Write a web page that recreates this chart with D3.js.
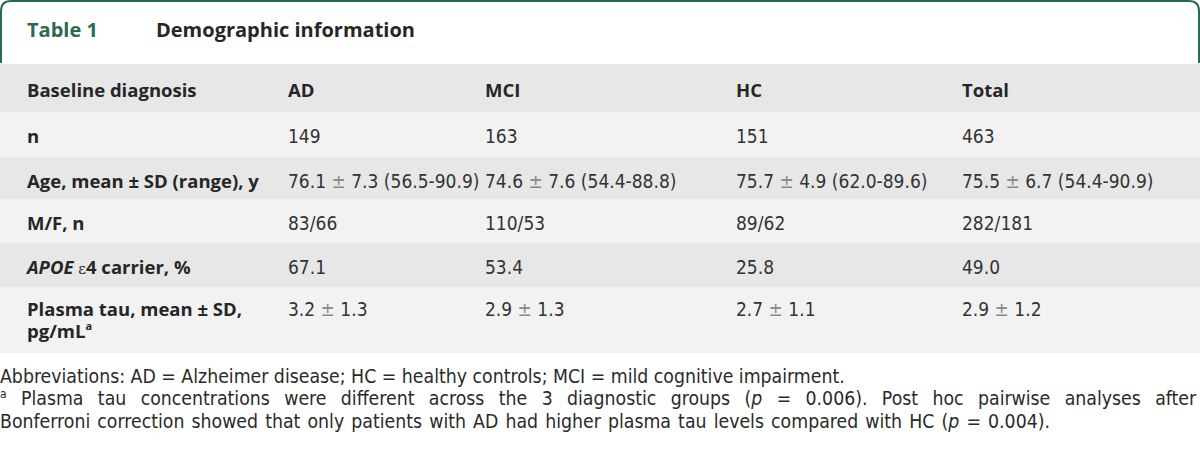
<!DOCTYPE html>
<html>
<head>
<meta charset="utf-8">
<script src="https://cdn.jsdelivr.net/npm/d3@7"></script>
<style>
  body { margin: 0; background: #fff; }
  svg { display: block; }
  .lbl { font-family: "Open Sans", Lato, sans-serif; font-weight: 700; font-size: 18.5px; fill: #262626; }
  .val { font-family: "Liberation Sans Narrow", "DejaVu Sans Condensed", sans-serif; font-size: 19px; fill: #333; }
  .note { font-family: "Liberation Sans Narrow", "DejaVu Sans Condensed", sans-serif; font-size: 19.3px; fill: #2a2a2a; }
</style>
</head>
<body>
<svg id="table"></svg>
<script>
const w = 1200;
const h = 455;

const title = "Table 1";
const subtitle = "Demographic information";
const columns = ["AD", "MCI", "HC", "Total"];
const rowLabels = ["n", "Age, mean ± SD (range), y", "M/F, n", "APOE ε4 carrier, %", "Plasma tau, mean ± SD, pg/mLa"];
const adValues = ["149", "76.1 ± 7.3 (56.5-90.9)", "83/66", "67.1", "3.2 ± 1.3"];
const mciValues = ["163", "74.6 ± 7.6 (54.4-88.8)", "110/53", "53.4", "2.9 ± 1.3"];
const hcValues = ["151", "75.7 ± 4.9 (62.0-89.6)", "89/62", "25.8", "2.7 ± 1.1"];
const totalValues = ["463", "75.5 ± 6.7 (54.4-90.9)", "282/181", "49.0", "2.9 ± 1.2"];
const footnotes = [
  "Abbreviations: AD = Alzheimer disease; HC = healthy controls; MCI = mild cognitive impairment.",
  "aPlasma tau concentrations were different across the 3 diagnostic groups (p = 0.006). Post hoc pairwise analyses after",
  "Bonferroni correction showed that only patients with AD had higher plasma tau levels compared with HC (p = 0.004)."
];

const green = "#2d6a4b";
const svg = d3.select("#table").attr("width", w).attr("height", h);

// header tab
svg.append("path")
  .attr("d", "M1,63 V11 Q1,1 11,1 H1189 Q1199,1 1199,11 V63")
  .attr("fill", "none")
  .attr("stroke", green)
  .attr("stroke-width", 2);

svg.append("text")
  .attr("x", 27).attr("y", 37)
  .style("font-family", "'Open Sans', sans-serif").style("font-weight", 700).style("font-size", "20px")
  .attr("fill", green)
  .text(title);
svg.append("text")
  .attr("x", 156).attr("y", 37)
  .style("font-family", "'Open Sans', sans-serif").style("font-weight", 700).style("font-size", "20px")
  .attr("fill", "#262626")
  .text(subtitle);

// rows: header + data rows; last row wraps to two lines
const rowKeys = ["header"].concat(rowLabels);
const rowHeights = [48, 45, 42, 44, 44, 66];
const rowTop = [];
rowHeights.reduce((acc, v, i) => { rowTop[i] = acc; return acc + v; }, 64);

const yScale = d3.scaleOrdinal().domain(rowKeys).range(rowTop);
const hScale = d3.scaleOrdinal().domain(rowKeys).range(rowHeights);
const xScale = d3.scaleOrdinal().domain(["label"].concat(columns)).range([27, 288, 485, 736, 962]);
const fillScale = d3.scaleOrdinal().domain([0, 1]).range(["#e6e7e6", "#f2f2f2"]);

svg.selectAll("rect.row")
  .data(rowKeys)
  .enter()
  .append("rect")
  .attr("class", "row")
  .attr("x", 0)
  .attr("width", w)
  .attr("y", (d) => yScale(d))
  .attr("height", (d) => hScale(d))
  .attr("fill", (d, i) => fillScale(i % 2));

// column header row
const headY = yScale("header") + 33;
svg.append("text").attr("class", "lbl").attr("x", xScale("label")).attr("y", headY).text("Baseline diagnosis");
svg.selectAll("text.colhead")
  .data(columns)
  .enter()
  .append("text")
  .attr("class", "lbl colhead")
  .attr("x", (d) => xScale(d))
  .attr("y", headY)
  .text((d) => d);

// row labels
const firstLineY = (d) => yScale(d) + (d.startsWith("Plasma") ? 29 : 31);
rowLabels.forEach((label) => {
  const t = svg.append("text").attr("class", "lbl").attr("x", xScale("label")).attr("y", firstLineY(label));
  if (label.startsWith("APOE")) {
    t.append("tspan").style("font-style", "italic").text("APOE");
    t.append("tspan").style("font-family", "'DejaVu Serif', serif").style("font-weight", 400).style("font-size", "15px").text(" ε");
    t.append("tspan").text("4 carrier, %");
  } else if (label.startsWith("Plasma")) {
    t.append("tspan").text("Plasma tau, mean ± SD,");
    const t2 = svg.append("text").attr("class", "lbl").attr("x", xScale("label")).attr("y", firstLineY(label) + 22);
    t2.append("tspan").text("pg/mL");
    t2.append("tspan").attr("dy", -8).style("font-size", "11px").text("a");
  } else {
    t.text(label);
  }
});

// values
const seriesByColumn = { AD: adValues, MCI: mciValues, HC: hcValues, Total: totalValues };
columns.forEach((col) => {
  svg.selectAll("text.v-" + col)
    .data(seriesByColumn[col])
    .enter()
    .append("text")
    .attr("class", "val v-" + col)
    .attr("x", xScale(col))
    .attr("y", (d, i) => firstLineY(rowLabels[i]))
    .each(function (d) {
      const parts = d.split("±");
      const el = d3.select(this);
      if (parts.length === 1) { el.text(d); return; }
      el.append("tspan").text(parts[0]);
      el.append("tspan").attr("fill", "#888").text("±");
      el.append("tspan").text(parts[1]);
    });
});

// footnotes (paragraph is justified, so the middle line fills the width)
const noteY = [383, 405, 428];
const fitWidth = (t, target) => {
  const len0 = t.node().getBBox().width;
  t.attr("word-spacing", 2);
  const len1 = t.node().getBBox().width;
  const perUnit = (len1 - len0) / 2;
  if (perUnit > 0) t.attr("word-spacing", (target - len0) / perUnit);
};
footnotes.forEach((line, i) => {
  const t = svg.append("text").attr("class", "note").attr("x", 0).attr("y", noteY[i]);
  let rest = line;
  let shiftBack = 0;
  if (i === 1) {
    t.append("tspan").attr("dy", -7).style("font-size", "12px").text("a");
    rest = " " + line.slice(1);
    shiftBack = 7;
  }
  rest.split(/(\(p =)/).forEach((seg, k) => {
    if (seg === "(p =") {
      t.append("tspan").text("(");
      t.append("tspan").style("font-style", "italic").text("p");
      t.append("tspan").text(" =");
    } else {
      const s = t.append("tspan").text(seg);
      if (k === 0 && shiftBack) s.attr("dy", shiftBack);
    }
  });
  if (i === 1) fitWidth(t, w - 3);
  if (i === 2) fitWidth(t, 1050);
});
</script>
</body>
</html>
